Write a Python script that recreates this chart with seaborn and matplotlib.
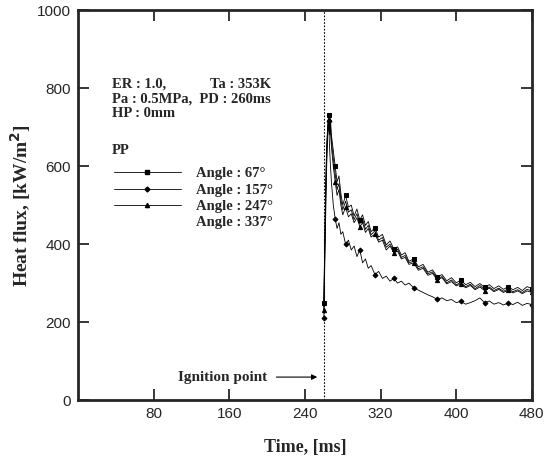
import numpy as np
import pandas as pd
import seaborn as sns
import matplotlib.pyplot as plt
from matplotlib.lines import Line2D

# time axis (ms) and heat flux (kW/m^2)
time = [260, 261, 262, 263, 264, 265, 266, 267, 268, 270, 272, 274, 276, 278, 280,
        283, 286, 289, 292, 295, 298, 301, 304, 307, 310, 314, 318, 322, 326, 330,
        334, 338, 342, 346, 350, 355, 360, 365, 370, 375, 380, 385, 390, 395, 400,
        405, 410, 415, 420, 425, 430, 435, 440, 445, 450, 455, 460, 465, 470, 475, 480]

angle67 = [250, 420, 560, 650, 700, 730, 690, 720, 680, 640, 600, 560, 575, 530, 500,
           525, 495, 500, 472, 490, 462, 475, 448, 458, 432, 442, 418, 425, 398, 408,
           388, 393, 372, 378, 356, 362, 342, 348, 328, 334, 316, 322, 306, 314, 301,
           307, 296, 302, 291, 299, 289, 296, 286, 293, 284, 291, 283, 289, 281, 291, 286]

angle157 = [210, 350, 480, 600, 680, 715, 650, 600, 560, 500, 465, 440, 455, 425, 432,
            400, 410, 385, 395, 368, 385, 352, 362, 338, 345, 322, 330, 312, 318, 305,
            312, 300, 305, 295, 300, 288, 282, 276, 270, 265, 258, 262, 255, 258, 250,
            253, 246, 250, 255, 262, 250, 254, 246, 250, 244, 249, 245, 251, 243, 248, 245]

angle247 = [230, 380, 520, 620, 690, 720, 700, 690, 650, 600, 560, 525, 540, 500, 475,
            495, 470, 478, 455, 468, 445, 455, 430, 440, 418, 426, 405, 410, 385, 395,
            378, 382, 362, 366, 348, 352, 333, 338, 320, 325, 308, 314, 298, 304, 293,
            298, 288, 294, 283, 290, 281, 287, 278, 284, 276, 282, 275, 280, 273, 280, 276]

angle337 = [240, 400, 540, 640, 695, 725, 680, 705, 665, 620, 580, 540, 555, 515, 488,
            510, 482, 488, 463, 478, 452, 465, 438, 448, 424, 434, 410, 417, 392, 400,
            382, 387, 366, 371, 352, 356, 337, 342, 324, 329, 311, 317, 301, 308, 296,
            301, 291, 297, 286, 294, 284, 290, 281, 287, 279, 285, 278, 283, 276, 284, 280]

labels = ['Angle : 67°', 'Angle : 157°', 'Angle : 247°', 'Angle : 337°']

df = pd.DataFrame({'time': time, '67': angle67, '157': angle157,
                   '247': angle247, '337': angle337})

sns.set_style('ticks')
plt.rcParams['font.family'] = ['Liberation Sans', 'DejaVu Sans']

fig = plt.figure(figsize=(5.46, 4.62), dpi=100)
ax = fig.add_axes([0.143, 0.134, 0.831, 0.844])

serif = ['Liberation Serif', 'DejaVu Serif']

styles = [('67', 's', 2.8), ('157', 'D', 2.5), ('247', '^', 3), ('337', 'o', 0)]
handles = []
for (col, mk, ms), lab in zip(styles, labels):
    sns.lineplot(data=df, x='time', y=col, ax=ax, color='black', lw=0.6,
                 marker=mk, markersize=ms, markevery=5, estimator=None,
                 markeredgecolor='black')
    handles.append(Line2D([], [], color='black', lw=0.6, marker=mk, markersize=ms))
handles[3] = Line2D([], [], color='none', lw=0.6)

ax.axvline(260, color='black', ls=(0, (1.5, 1.5)), lw=0.8)

ax.set_xlim(0, 480)
ax.set_ylim(0, 1000)
ax.set_xticks([80, 160, 240, 320, 400, 480])
ax.set_yticks([0, 200, 400, 600, 800, 1000])
ax.tick_params(direction='in', length=8, width=1.3, labelsize=11,
               top=True, right=True, pad=5)
for s in ax.spines.values():
    s.set_linewidth(2)
    s.set_visible(True)

ax.set_xlabel('Time, [ms]', fontsize=13, fontweight='bold', family=serif, labelpad=13)
ax.set_ylabel('Heat flux, [kW/m$^\\mathbf{2}$]', fontsize=14, fontweight='bold',
              family=serif, labelpad=3)

tfont = dict(fontsize=10.5, fontweight='bold', family=serif, transform=ax.transAxes,
             va='center', ha='left')
ax.text(0.075, 0.81, 'ER : 1.0,', **tfont)
ax.text(0.29, 0.81, 'Ta : 353K', **tfont)
ax.text(0.075, 0.773, 'Pa : 0.5MPa,  PD : 260ms', **tfont)
ax.text(0.075, 0.736, 'HP : 0mm', **tfont)
ax.text(0.075, 0.64, 'PP', **tfont)

leg = ax.legend(handles, labels, loc='upper left', bbox_to_anchor=(0.066, 0.612),
                frameon=False, handlelength=4.6, handletextpad=1.0,
                labelspacing=0.2, borderaxespad=0,
                prop=dict(family=serif, weight='bold', size=10.5))

ax.annotate('Ignition point', xy=(253, 59), xytext=(106, 59),
            fontsize=11, fontweight='bold', family=serif, va='center',
            arrowprops=dict(arrowstyle='-|>', color='black', lw=0.8,
                            shrinkA=4, shrinkB=0, mutation_scale=8))

fig.savefig('out.png', dpi=100)
